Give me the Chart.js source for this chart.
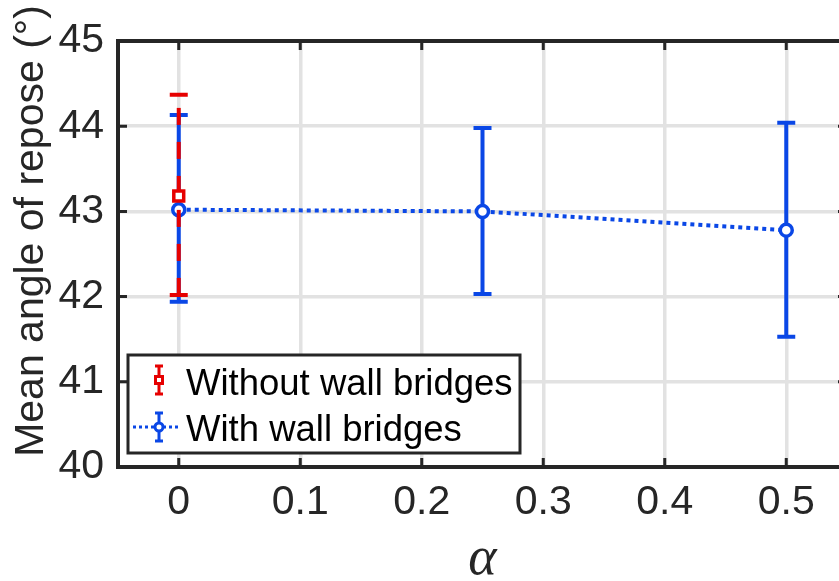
<!DOCTYPE html>
<html>
<head>
<meta charset="utf-8">
<script src="https://cdn.jsdelivr.net/npm/chart.js@4/dist/chart.umd.min.js"></script>
<style>
  html, body { margin: 0; padding: 0; background: #fff; overflow: hidden; width: 839px; height: 581px; }
  #wrap { position: relative; width: 860px; height: 581px; }
</style>
</head>
<body>
<div id="wrap"><canvas id="chart" width="860" height="581"></canvas></div>
<script>
// --- Data ---
const xTicks = [0, 0.1, 0.2, 0.3, 0.4, 0.5];
const yTicks = [40, 41, 42, 43, 44, 45];
const seriesLabels = ['Without wall bridges', 'With wall bridges'];
const xTitle = 'α';
const yTitle = 'Mean angle of repose (°)';

// without wall bridges
const alphaNo = [0];
const meanNo = [43.18];
const lowNo = [42.02];
const highNo = [44.37];

// with wall bridges
const alphaWith = [0, 0.25, 0.5];
const meanWith = [43.02, 43.0, 42.78];
const lowWith = [41.94, 42.03, 41.53];
const highWith = [44.13, 43.98, 44.04];

const RED = '#e60000';
const BLUE = '#0a47e6';
const INK = '#262626';
const GRID = '#e2e2e2';
const FONT = '"Liberation Sans", Arial, Helvetica, sans-serif';

// --- Error bars, drawn under each dataset's own markers ---
const errorBars = {
  id: 'errorBars',
  beforeDatasetDraw(chart, args) {
    const ds = chart.data.datasets[args.index];
    if (!ds.err) return;
    const { ctx } = chart;
    const xs = chart.scales.x, ys = chart.scales.y;
    ctx.save();
    ctx.strokeStyle = ds.borderColor;
    ctx.lineWidth = 4;
    ds.data.forEach((p, i) => {
      const x = xs.getPixelForValue(p.x);
      const yLo = ys.getPixelForValue(ds.err.low[i]);
      const yHi = ys.getPixelForValue(ds.err.high[i]);
      // stem
      ctx.setLineDash(ds.err.dash || []);
      ctx.beginPath(); ctx.moveTo(x, yLo); ctx.lineTo(x, yHi); ctx.stroke();
      ctx.setLineDash([]);
      // caps
      ctx.beginPath();
      ctx.moveTo(x - 9, yLo); ctx.lineTo(x + 9, yLo);
      ctx.moveTo(x - 9, yHi); ctx.lineTo(x + 9, yHi);
      ctx.stroke();
    });
    ctx.restore();
  }
};

// --- Box, inward ticks, titles, legend ---
const matlabFrame = {
  id: 'matlabFrame',
  afterDraw(chart) {
    const { ctx, chartArea: a } = chart;
    const xs = chart.scales.x, ys = chart.scales.y;
    ctx.save();
    ctx.strokeStyle = INK;
    ctx.lineWidth = 4;
    ctx.strokeRect(a.left, a.top, a.right - a.left, a.bottom - a.top);
    ctx.lineWidth = 3;
    ctx.beginPath();
    xTicks.forEach(v => {
      const x = xs.getPixelForValue(v);
      ctx.moveTo(x, a.bottom); ctx.lineTo(x, a.bottom - 9);
      ctx.moveTo(x, a.top); ctx.lineTo(x, a.top + 9);
    });
    yTicks.forEach(v => {
      const y = ys.getPixelForValue(v);
      ctx.moveTo(a.left, y); ctx.lineTo(a.left + 9, y);
      ctx.moveTo(a.right, y); ctx.lineTo(a.right - 9, y);
    });
    ctx.stroke();

    // axis titles
    ctx.fillStyle = INK;
    ctx.font = '41px ' + FONT;
    ctx.textAlign = 'center';
    ctx.textBaseline = 'alphabetic';
    ctx.save();
    ctx.translate(43, 231);
    ctx.rotate(-Math.PI / 2);
    ctx.fillText(yTitle, 0, 0);
    ctx.restore();
    ctx.font = 'italic 54px "Liberation Serif", "DejaVu Serif", serif';
    ctx.fillText(xTitle, (a.left + a.right) / 2, 574);

    // legend
    const L = { x: 128, y: 355, w: 392, h: 98 };
    ctx.fillStyle = '#fff';
    ctx.fillRect(L.x, L.y, L.w, L.h);
    ctx.lineWidth = 3;
    ctx.strokeStyle = INK;
    ctx.strokeRect(L.x, L.y, L.w, L.h);

    const ix = 159;
    // row 1: red square errorbar
    ctx.strokeStyle = RED;
    ctx.lineWidth = 3;
    ctx.beginPath();
    ctx.moveTo(ix, 366); ctx.lineTo(ix, 394);
    ctx.moveTo(ix - 4, 366); ctx.lineTo(ix + 4, 366);
    ctx.moveTo(ix - 4, 394); ctx.lineTo(ix + 4, 394);
    ctx.stroke();
    ctx.fillStyle = '#fff';
    ctx.fillRect(ix - 3.5, 376.5, 7, 7);
    ctx.strokeRect(ix - 3.5, 376.5, 7, 7);
    // row 2: blue dotted + circle errorbar
    ctx.strokeStyle = BLUE;
    ctx.setLineDash([3, 3]);
    ctx.beginPath(); ctx.moveTo(133, 427); ctx.lineTo(181, 427); ctx.stroke();
    ctx.setLineDash([]);
    ctx.beginPath();
    ctx.moveTo(ix, 413); ctx.lineTo(ix, 441);
    ctx.moveTo(ix - 4, 413); ctx.lineTo(ix + 4, 413);
    ctx.moveTo(ix - 4, 441); ctx.lineTo(ix + 4, 441);
    ctx.stroke();
    ctx.beginPath(); ctx.arc(ix, 427, 4, 0, Math.PI * 2);
    ctx.fillStyle = '#fff'; ctx.fill(); ctx.stroke();

    ctx.fillStyle = '#000';
    ctx.font = '36.5px ' + FONT;
    ctx.textAlign = 'left';
    ctx.fillText(seriesLabels[0], 186, 395);
    ctx.fillText(seriesLabels[1], 186, 441);
    ctx.restore();
  }
};

const tickFont = { family: FONT, size: 41 };

new Chart(document.getElementById('chart'), {
  type: 'scatter',
  data: {
    datasets: [
      {
        label: seriesLabels[0],
        data: alphaNo.map((x, i) => ({ x, y: meanNo[i] })),
        err: { low: lowNo, high: highNo, dash: [17, 17] },
        borderColor: RED,
        backgroundColor: '#fff',
        pointStyle: 'rect',
        pointRadius: 7,
        borderWidth: 3.5,
        showLine: false
      },
      {
        label: seriesLabels[1],
        data: alphaWith.map((x, i) => ({ x, y: meanWith[i] })),
        err: { low: lowWith, high: highWith },
        borderColor: BLUE,
        backgroundColor: '#fff',
        pointStyle: 'circle',
        pointRadius: 6,
        pointBorderWidth: 3.5,
        borderWidth: 4,
        borderDash: [4, 4],
        showLine: true
      }
    ]
  },
  options: {
    responsive: false,
    animation: false,
    events: [],
    layout: { padding: { top: 41, right: 13, left: 0, bottom: 0 } },
    plugins: { legend: { display: false }, tooltip: { enabled: false } },
    scales: {
      x: {
        type: 'linear', min: -0.05, max: 0.55,
        afterBuildTicks: s => { s.ticks = xTicks.map(v => ({ value: v })); },
        afterFit: s => { s.height = 114; },
        grid: { color: GRID, lineWidth: 3.5, drawTicks: false },
        border: { display: false },
        ticks: { font: tickFont, color: INK, padding: 11, maxRotation: 0, callback: v => String(v) }
      },
      y: {
        type: 'linear', min: 40, max: 45,
        afterBuildTicks: s => { s.ticks = yTicks.map(v => ({ value: v })); },
        afterFit: s => { s.width = 118; },
        grid: { color: GRID, lineWidth: 3.5, drawTicks: false },
        border: { display: false },
        ticks: { font: tickFont, color: INK, padding: 14, callback: v => String(v) }
      }
    }
  },
  plugins: [errorBars, matlabFrame]
});
</script>
</body>
</html>
